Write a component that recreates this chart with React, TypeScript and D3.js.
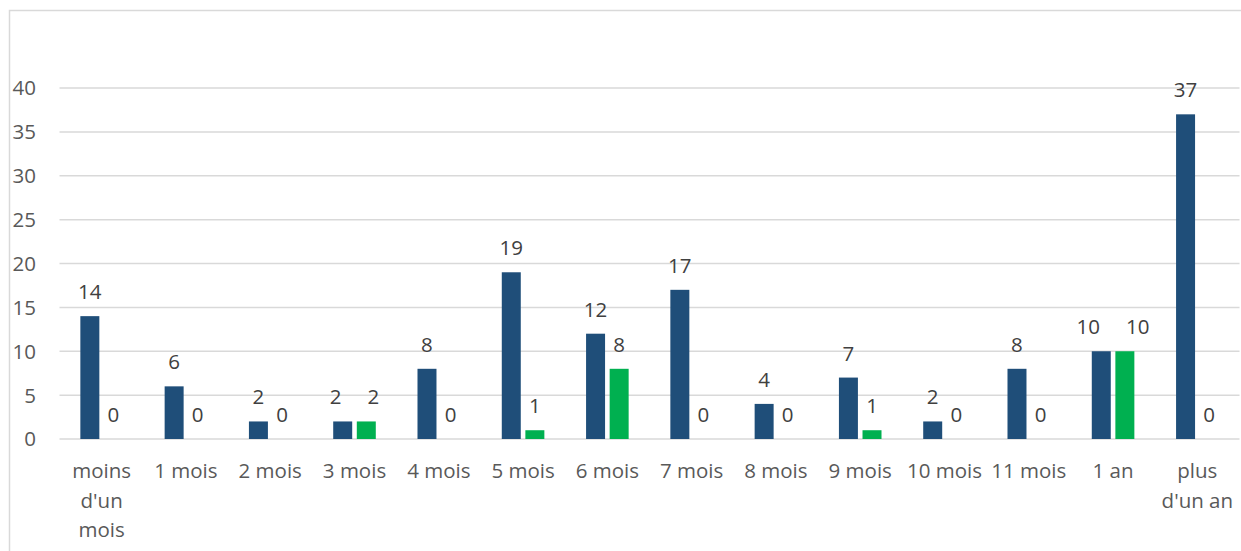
import React, { useMemo } from "react";
import * as d3 from "d3";

// Durées (catégories) et effectifs des deux séries
const categories: string[] = [
  "moins d'un mois",
  "1 mois",
  "2 mois",
  "3 mois",
  "4 mois",
  "5 mois",
  "6 mois",
  "7 mois",
  "8 mois",
  "9 mois",
  "10 mois",
  "11 mois",
  "1 an",
  "plus d'un an",
];
const seriesBleue: number[] = [14, 6, 2, 2, 8, 19, 12, 17, 4, 7, 2, 8, 10, 37];
const seriesVerte: number[] = [0, 0, 0, 2, 0, 1, 8, 0, 0, 1, 0, 0, 10, 0];
const yTicks: number[] = [0, 5, 10, 15, 20, 25, 30, 35, 40];

const seriesKeys = ["bleue", "verte"];
const colors: Record<string, string> = { bleue: "#1F4E79", verte: "#00B050" };

const W = 1241;
const H = 551;
const FONT = "'Open Sans', sans-serif";
const FS = 20.5;

function getCtx(): CanvasRenderingContext2D | null {
  const canvas = document.createElement("canvas");
  const ctx = canvas.getContext("2d");
  if (ctx) ctx.font = `${FS}px ${FONT}`;
  return ctx;
}

function wrapLabel(ctx: CanvasRenderingContext2D | null, text: string, maxWidth: number): string[] {
  if (!ctx) return [text];
  const words = text.split(" ");
  const lines: string[] = [];
  let cur = "";
  for (const w of words) {
    const test = cur ? cur + " " + w : w;
    if (cur && ctx.measureText(test).width > maxWidth) {
      lines.push(cur);
      cur = w;
    } else {
      cur = test;
    }
  }
  if (cur) lines.push(cur);
  return lines;
}

export default function App() {
  const x0 = d3.scaleBand<string>().domain(categories).range([59.5, 1239.5]).padding(0);
  const x1 = d3
    .scaleBand<string>()
    .domain(seriesKeys)
    .range([0, x0.step()])
    .paddingInner(0.195)
    .paddingOuter(0.884);
  const y = d3.scaleLinear().domain([0, 40]).range([439, 88]);

  const ctx = useMemo(() => getCtx(), []);
  const wrapped = useMemo(() => categories.map((c) => wrapLabel(ctx, c, 80)), [ctx]);

  // Écarte horizontalement les étiquettes de valeur qui se chevauchent
  const labelShift = useMemo(
    () =>
      categories.map((_, i) => {
        const a = seriesBleue[i];
        const b = seriesVerte[i];
        if (Math.abs(y(a) - y(b)) > 16) return [0, 0];
        const wa = ctx ? ctx.measureText(String(a)).width : 12 * String(a).length;
        const wb = ctx ? ctx.measureText(String(b)).width : 12 * String(b).length;
        const dist = x1.step();
        const gap = dist - wa / 2 - wb / 2;
        const target = 26;
        if (gap >= target) return [0, 0];
        const extra = (target - gap) / 2;
        return [-extra, extra];
      }),
    [ctx]
  );

  const rows = categories.map((c, i) => ({
    cat: c,
    vals: [
      { key: "bleue", v: seriesBleue[i], dx: labelShift[i][0] },
      { key: "verte", v: seriesVerte[i], dx: labelShift[i][1] },
    ],
  }));

  return (
    <svg
      width={W}
      height={H}
      style={{ position: "absolute", left: 0, top: 0, background: "#fff" }}
      fontFamily={FONT}
    >
      <rect x={9.5} y={10.5} width={1240} height={560} fill="#fff" stroke="#d9d9d9" strokeWidth={1.5} />

      {/* grille horizontale */}
      {yTicks.map((t) => (
        <line
          key={`g${t}`}
          x1={59.5}
          x2={1239.5}
          y1={y(t)}
          y2={y(t)}
          stroke="#d9d9d9"
          strokeWidth={1.5}
        />
      ))}

      {/* graduations de l'axe vertical */}
      {yTicks.map((t) => (
        <text
          key={`t${t}`}
          x={36}
          y={y(t)}
          dy="0.36em"
          textAnchor="end"
          fontSize={FS}
          fill="#595959"
        >
          {t}
        </text>
      ))}

      {/* barres et étiquettes de valeur */}
      {rows.map((r) => (
        <g key={r.cat} transform={`translate(${x0(r.cat)},0)`}>
          {r.vals.map((d) => (
            <g key={d.key}>
              <rect
                x={x1(d.key)}
                y={y(d.v)}
                width={x1.bandwidth()}
                height={y(0) - y(d.v)}
                fill={colors[d.key]}
              />
              <text
                x={(x1(d.key) as number) + x1.bandwidth() / 2 + d.dx}
                y={y(d.v) - 17}
                textAnchor="middle"
                fontSize={FS}
                fill="#404040"
              >
                {d.v}
              </text>
            </g>
          ))}
        </g>
      ))}

      {/* libellés des catégories */}
      {categories.map((c, i) => (
        <text
          key={`c${c}`}
          x={(x0(c) as number) + x0.bandwidth() / 2}
          y={478}
          textAnchor="middle"
          fontSize={FS}
          fill="#595959"
        >
          {wrapped[i].map((line, j) => (
            <tspan key={j} x={(x0(c) as number) + x0.bandwidth() / 2} dy={j === 0 ? 0 : 29.5}>
              {line}
            </tspan>
          ))}
        </text>
      ))}
    </svg>
  );
}
